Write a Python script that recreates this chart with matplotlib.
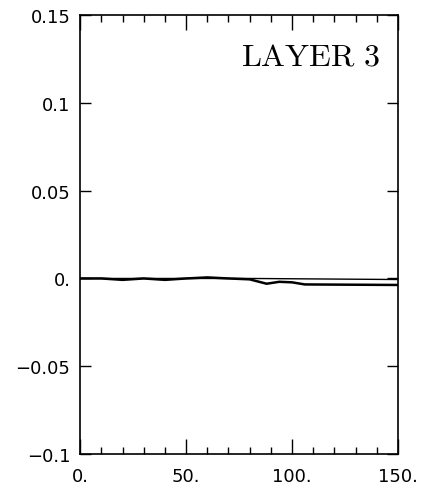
import matplotlib
matplotlib.use('Agg')
import matplotlib.pyplot as plt
from matplotlib.ticker import MultipleLocator

plt.rcParams['mathtext.fontset'] = 'cm'

# data
x_thick = [0, 10, 20, 30, 40, 50, 60, 70, 80, 88, 94, 100, 106, 120, 150]
y_thick = [0.0, 0.0, -0.0008, 0.0, -0.0008, 0.0, 0.0006, 0.0, -0.0005,
           -0.003, -0.0019, -0.0022, -0.0034, -0.0035, -0.0037]
x_thin = [0, 80, 150]
y_thin = [0.0, 0.0, -0.0006]

x_ticks = [0, 50, 100, 150]
x_labels = ['0.', '50.', '100.', '150.']
y_ticks = [-0.1, -0.05, 0, 0.05, 0.1, 0.15]
y_labels = ['\u22120.1', '\u22120.05', '0.', '0.05', '0.1', '0.15']

fig = plt.figure(figsize=(4.22, 4.89), dpi=100)
ax = fig.add_axes([0.19, 0.0695, 0.753, 0.8975])

ax.plot(x_thin, y_thin, color='black', lw=1.0)
ax.plot(x_thick, y_thick, color='black', lw=1.8)

ax.set_xlim(0, 150)
ax.set_ylim(-0.1, 0.15)

ax.set_xticks(x_ticks)
ax.set_xticklabels(x_labels)
ax.set_yticks(y_ticks)
ax.set_yticklabels(y_labels)
ax.xaxis.set_minor_locator(MultipleLocator(10))

ax.tick_params(axis='x', which='major', direction='in', length=11, width=1,
               top=True, labelsize=13, pad=9)
ax.tick_params(axis='x', which='minor', direction='in', length=5, width=1, top=True)
ax.tick_params(axis='y', which='major', direction='in', length=8, width=1,
               right=True, labelsize=13, pad=7)

for s in ax.spines.values():
    s.set_linewidth(1.2)

ax.text(0.943, 0.888, r'$\mathrm{LAYER\ 3}$', transform=ax.transAxes,
        ha='right', va='baseline', fontsize=23)

plt.savefig('out.png', dpi=100)
